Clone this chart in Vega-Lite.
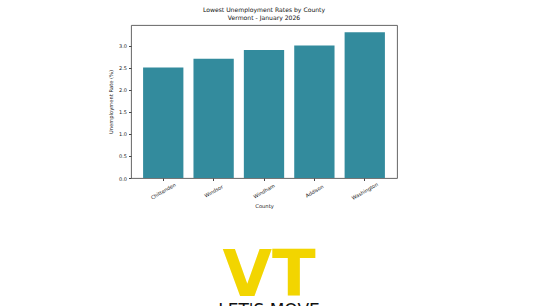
{
  "$schema": "https://vega.github.io/schema/vega-lite/v6.json",
  "background": "white",
  "padding": {"left": 108, "top": 6, "right": 0, "bottom": 0},
  "config": {
    "font": "DejaVu Sans",
    "view": {"stroke": "#555", "strokeWidth": 0.9},
    "axis": {
      "labelFont": "DejaVu Sans",
      "titleFont": "DejaVu Sans",
      "labelFontSize": 5,
      "titleFontSize": 5.2,
      "titleFontWeight": "normal",
      "labelColor": "#222",
      "titleColor": "#222",
      "tickColor": "#444",
      "domainColor": "#555",
      "tickSize": 2.5,
      "labelPadding": 2
    }
  },
  "spacing": 8,
  "vconcat": [
    {
      "width": 266,
      "height": 153,
      "title": {
        "text": ["Lowest Unemployment Rates by County", "Vermont - January 2026"],
        "fontSize": 6.1,
        "fontWeight": "normal",
        "font": "DejaVu Sans",
        "color": "#111",
        "anchor": "middle",
        "lineHeight": 8,
        "offset": 4
      },
      "data": {
        "values": [
          {"county": "Chittenden", "rate": 2.5},
          {"county": "Windsor", "rate": 2.7},
          {"county": "Windham", "rate": 2.9},
          {"county": "Addison", "rate": 3.0},
          {"county": "Washington", "rate": 3.3}
        ]
      },
      "mark": {"type": "bar", "color": "#338b9d"},
      "encoding": {
        "x": {
          "field": "county",
          "type": "nominal",
          "sort": null,
          "title": "County",
          "scale": {"paddingInner": 0.2, "paddingOuter": 0.24},
          "axis": {"labelAngle": -30, "labelAlign": "center", "labelBaseline": "middle", "labelPadding": 10, "domain": false, "titlePadding": 3}
        },
        "y": {
          "field": "rate",
          "type": "quantitative",
          "title": "Unemployment Rate (%)",
          "scale": {"domain": [0, 3.465], "nice": false},
          "axis": {"values": [0, 0.5, 1, 1.5, 2, 2.5, 3], "format": ".1f", "grid": false, "domain": false, "titlePadding": 5}
        }
      }
    },
    {
      "width": 266,
      "height": 80,
      "view": {"stroke": null},
      "data": {
        "values": [
          {"label": "VT", "line": "logo"},
          {"label": "LET'S MOVE", "line": "tagline"}
        ]
      },
      "layer": [
        {
          "transform": [{"filter": "datum.line === 'logo'"}],
          "mark": {"type": "text", "font": "DejaVu Sans", "fontWeight": "bold", "fontSize": 64, "color": "#f2d500", "baseline": "alphabetic", "align": "center", "dx": 5},
          "encoding": {
            "text": {"field": "label"},
            "y": {"field": "line", "type": "nominal", "scale": {"type": "point", "padding": 0, "domain": ["logo", "tagline"], "range": [78, 85]}, "axis": null}
          }
        },
        {
          "transform": [{"filter": "datum.line === 'tagline'"}],
          "mark": {"type": "text", "font": "DejaVu Sans", "fontWeight": "normal", "fontSize": 17, "color": "#111", "baseline": "top", "align": "center", "dx": 5},
          "encoding": {
            "text": {"field": "label"},
            "y": {"field": "line", "type": "nominal", "scale": {"type": "point", "padding": 0, "domain": ["logo", "tagline"], "range": [78, 85]}, "axis": null}
          }
        }
      ]
    }
  ]
}
